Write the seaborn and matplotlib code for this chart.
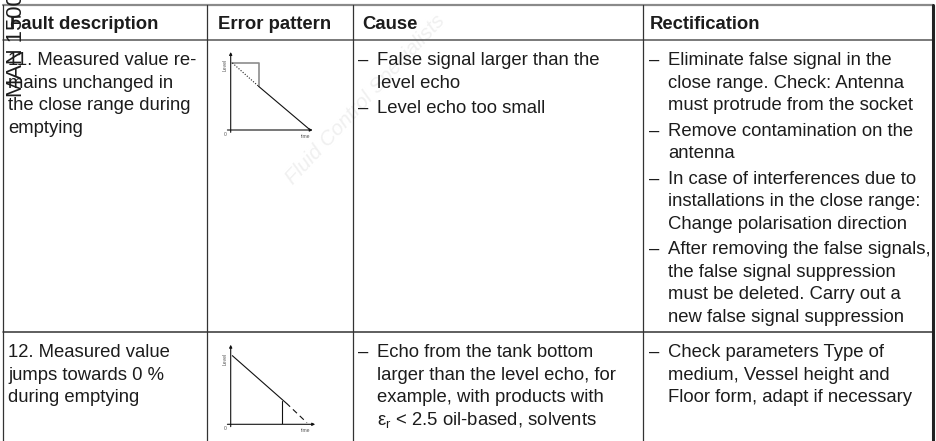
import matplotlib
matplotlib.use("Agg")
import matplotlib.pyplot as plt
import seaborn as sns

sns.set_theme(style="white")
plt.rcParams["font.family"] = ["Liberation Sans", "DejaVu Sans"]
plt.rcParams["mathtext.fontset"] = "custom"
plt.rcParams["mathtext.rm"] = "Liberation Sans"

# Table text
HEADERS = ["Fault description", "Error pattern", "Cause", "Rectification"]
SIDE_MARK = "MAN 1500"
WATERMARK = "Fluid Control Specialists"

FAULT_11 = ["11. Measured value re-", "mains unchanged in",
            "the close range during", "emptying"]
CAUSE_11 = [["False signal larger than the", "level echo"],
            ["Level echo too small"]]
RECT_11 = [["Eliminate false signal in the", "close range. Check: Antenna",
            "must protrude from the socket"],
           ["Remove contamination on the", "antenna"],
           ["In case of interferences due to", "installations in the close range:",
            "Change polarisation direction"],
           ["After removing the false signals,", "the false signal suppression",
            "must be deleted. Carry out a", "new false signal suppression"]]

FAULT_12 = ["12. Measured value", "jumps towards 0 %", "during emptying"]
CAUSE_12 = [["Echo from the tank bottom", "larger than the level echo, for",
             "example, with products with",
             r"$\mathregular{ε_r}$ < 2.5 oil-based, solvents"]]
RECT_12 = [["Check parameters Type of", "medium, Vessel height and",
            "Floor form, adapt if necessary"]]

# Error pattern sketches (time / level, arbitrary units)
ECHO_11_TIME = [0.02, 0.34, 0.97]
ECHO_11_LEVEL = [0.86, 0.56, 0.0]
FALSE_11_TIME = [0.02, 0.34, 0.34]
FALSE_11_LEVEL = [0.86, 0.86, 0.56]

ECHO_12_TIME = [0.02, 0.69, 0.93]
ECHO_12_LEVEL = [0.88, 0.26, 0.02]
JUMP_12_TIME = [0.63, 0.63]
JUMP_12_LEVEL = [0.30, 0.0]

# Layout in pixels
W, H = 936, 441
COL_X = [3, 207, 353, 643, 933]
ROW_Y = [5, 40, 332]
FS = 13.3
LS = 22.6
BG = 25.4
TXT = "#1c1c1c"
LINE = "#333333"

fig = plt.figure(figsize=(W / 100, H / 100), dpi=100)
ax = fig.add_axes([0, 0, 1, 1])
ax.set_xlim(0, W)
ax.set_ylim(H, 0)
ax.axis("off")

# faint watermark behind the table
ax.text(365, 100, WATERMARK, fontsize=15, color="#f0f0f0", rotation=47,
        ha="center", va="center", fontstyle="italic", zorder=0)

# grid lines
ax.plot([COL_X[0], COL_X[-1]], [ROW_Y[0], ROW_Y[0]], color="#8a8a8a", lw=1.6)
ax.plot([COL_X[0], COL_X[-1]], [ROW_Y[1], ROW_Y[1]], color="#555555", lw=1.1)
ax.plot([COL_X[0], COL_X[-1]], [ROW_Y[2], ROW_Y[2]], color=LINE, lw=1.1)
for x in COL_X[:-1]:
    ax.plot([x, x], [ROW_Y[0], H], color=LINE, lw=0.9)
ax.plot([COL_X[-1], COL_X[-1]], [ROW_Y[0], H], color="#222222", lw=2.2)

# header
head_x = [10, 218, 362, 650]
for x, t in zip(head_x, HEADERS):
    ax.text(x, 29, t, fontsize=FS, fontweight="bold", color=TXT, va="baseline")


def plain(x, y0, lines):
    for i, t in enumerate(lines):
        ax.text(x, y0 + i * LS, t, fontsize=FS, color=TXT, va="baseline")


def bullets(x, y0, items):
    y = y0
    for item in items:
        ax.text(x, y, "–", fontsize=FS, color=TXT, va="baseline")
        for j, t in enumerate(item):
            ax.text(x + 19, y + j * LS, t, fontsize=FS, color=TXT, va="baseline")
        y += (len(item) - 1) * LS + BG


r1 = ROW_Y[1] + 25
r2 = ROW_Y[2] + 25
plain(8, r1, FAULT_11)
bullets(358, r1, CAUSE_11)
bullets(649, r1, RECT_11)
plain(8, r2, FAULT_12)
bullets(358, r2, CAUSE_12)
bullets(649, r2, RECT_12)

ax.text(17, 97, SIDE_MARK, fontsize=15.8, color=TXT, rotation=90,
        ha="center", va="bottom")


def sketch(ox, oy, xtip, ytip):
    sx, sy = 82, 78
    a = fig.add_axes([ox / W, 1 - oy / H, sx / W, sy / H])
    a.set_xlim(0, 1)
    a.set_ylim(0, 1)
    a.axis("off")
    arrow = dict(arrowstyle="-|>", lw=0.8, color="#111111", mutation_scale=4,
                 shrinkA=0, shrinkB=0)
    a.annotate("", xy=(xtip, 0), xytext=(-0.04, 0), arrowprops=arrow,
               annotation_clip=False)
    a.annotate("", xy=(0, ytip), xytext=(0, -0.03), arrowprops=arrow,
               annotation_clip=False)
    a.text(-0.07, 0.84, "Level", fontsize=3.6, color="#555555", rotation=90,
           ha="center", va="center", clip_on=False)
    a.text(-0.07, -0.06, "0", fontsize=3.6, color="#555555",
           ha="center", va="center", clip_on=False)
    a.text(0.92, -0.08, "time", fontsize=3.6, color="#555555",
           ha="center", va="center", clip_on=False)
    return a


a1 = sketch(230.7, 130, 1.0, 1.0)
sns.lineplot(x=FALSE_11_TIME, y=FALSE_11_LEVEL, ax=a1, color="#8c8c8c", lw=1.2,
             estimator=None, sort=False)
sns.lineplot(x=ECHO_11_TIME[:2], y=ECHO_11_LEVEL[:2], ax=a1, color="#222222",
             lw=0.8, linestyle=(0, (1, 1.5)), estimator=None, sort=False)
sns.lineplot(x=ECHO_11_TIME[1:], y=ECHO_11_LEVEL[1:], ax=a1, color="#111111",
             lw=0.8, estimator=None, sort=False)

a2 = sketch(230.7, 424.3, 1.03, 1.02)
sns.lineplot(x=ECHO_12_TIME[:2], y=ECHO_12_LEVEL[:2], ax=a2, color="#111111",
             lw=0.8, estimator=None, sort=False)
sns.lineplot(x=ECHO_12_TIME[1:], y=ECHO_12_LEVEL[1:], ax=a2, color="#111111",
             lw=0.8, linestyle=(1.5, (5, 3.5)), estimator=None, sort=False)
sns.lineplot(x=JUMP_12_TIME, y=JUMP_12_LEVEL, ax=a2, color="#111111",
             lw=0.8, estimator=None, sort=False)

fig.savefig("out.png", dpi=100)
